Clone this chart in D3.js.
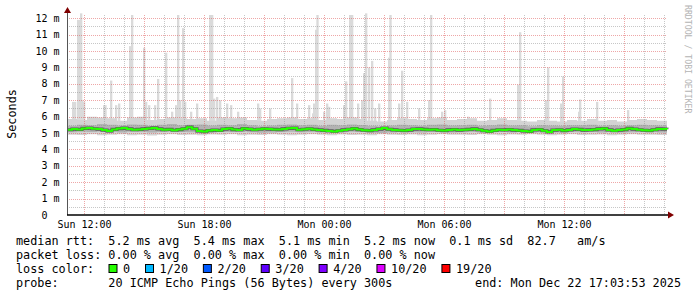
<!DOCTYPE html>
<html>
<head>
<meta charset="utf-8">
<script src="https://cdn.jsdelivr.net/npm/d3@7"></script>
<style>
  html, body { margin: 0; padding: 0; background: #fff; }
  svg text { font-family: "DejaVu Sans Mono", monospace; white-space: pre; }
</style>
</head>
<body>
<div id="chart"></div>
<script>
// ---- data ----
// graph window: Sun 21 Dec 11:09 .. Mon 22 Dec 17:09
const startTime = new Date(2025, 11, 21, 11, 9);
const endTime = new Date(2025, 11, 22, 17, 9);

// median rtt in ms, every 15 minutes from startTime
const medianStepMin = 15;
const medianRtt = [
  5.20, 5.24, 5.22, 5.28, 5.30, 5.26, 5.24, 5.18, 5.12, 5.22,
  5.27, 5.30, 5.25, 5.20, 5.22, 5.25, 5.28, 5.31, 5.25, 5.20,
  5.22, 5.17, 5.21, 5.26, 5.36, 5.26, 5.12, 5.09, 5.15, 5.18,
  5.16, 5.24, 5.27, 5.21, 5.19, 5.27, 5.24, 5.20, 5.23, 5.26,
  5.24, 5.22, 5.21, 5.25, 5.29, 5.30, 5.20, 5.23, 5.26, 5.22,
  5.19, 5.16, 5.13, 5.10, 5.14, 5.19, 5.23, 5.27, 5.21, 5.17,
  5.15, 5.19, 5.24, 5.30, 5.23, 5.19, 5.17, 5.15, 5.18, 5.24,
  5.25, 5.22, 5.20, 5.21, 5.17, 5.15, 5.19, 5.21, 5.18, 5.20,
  5.22, 5.25, 5.20, 5.14, 5.10, 5.16, 5.20, 5.19, 5.21, 5.18,
  5.16, 5.12, 5.10, 5.19, 5.21, 5.14, 5.07, 5.18, 5.20, 5.15,
  5.19, 5.24, 5.22, 5.18, 5.19, 5.21, 5.25, 5.27, 5.19, 5.14,
  5.18, 5.21, 5.28, 5.24, 5.20, 5.17, 5.15, 5.20, 5.25, 5.24,
  5.23
];

// smoke bands in ms, every 30 minutes from startTime
const smokeStepMin = 30;
const smokeLow = [
  4.90, 4.88, 4.92, 4.86, 4.90, 4.93, 4.87, 4.90, 4.85, 4.90,
  4.92, 4.88, 4.90, 4.86, 4.91, 4.89, 4.93, 4.87, 4.90, 4.88,
  4.92, 4.90, 4.86, 4.89, 4.93, 4.90, 4.87, 4.91, 4.88, 4.90,
  4.86, 4.92, 4.90, 4.88, 4.91, 4.87, 4.90, 4.93, 4.89, 4.90,
  4.88, 4.92, 4.90, 4.86, 4.91, 4.89, 4.92, 4.90, 4.87, 4.90,
  4.93, 4.88, 4.90, 4.91, 4.87, 4.90, 4.92, 4.89, 4.90, 4.88,
  4.90
];
const smokeQ1 = [
  5.05, 5.08, 5.06, 5.10, 5.07, 5.04, 5.08, 5.06, 5.03, 5.07,
  5.09, 5.06, 5.05, 5.08, 5.04, 5.07, 5.06, 5.10, 5.05, 5.02,
  5.04, 5.07, 5.08, 5.05, 5.06, 5.03, 5.07, 5.05, 5.08, 5.06,
  5.02, 5.00, 5.04, 5.06, 5.05, 5.03, 5.06, 5.07, 5.04, 5.05,
  5.06, 5.03, 5.05, 5.07, 5.04, 5.06, 5.02, 5.05, 5.04, 5.03,
  5.06, 5.05, 5.07, 5.04, 5.06, 5.03, 5.05, 5.07, 5.06, 5.04,
  5.05
];
const smokeQ3 = [
  5.45, 5.50, 5.48, 5.55, 5.50, 5.46, 5.52, 5.50, 5.44, 5.50,
  5.55, 5.48, 5.50, 5.52, 5.46, 5.50, 5.48, 5.55, 5.47, 5.42,
  5.46, 5.50, 5.52, 5.48, 5.50, 5.45, 5.50, 5.47, 5.52, 5.49,
  5.44, 5.40, 5.46, 5.50, 5.48, 5.44, 5.50, 5.52, 5.46, 5.48,
  5.50, 5.45, 5.48, 5.52, 5.46, 5.48, 5.42, 5.48, 5.46, 5.44,
  5.48, 5.47, 5.50, 5.45, 5.48, 5.44, 5.47, 5.50, 5.48, 5.46,
  5.47
];
const smokeHigh = [
  5.85, 5.80, 6.00, 5.95, 5.90, 5.75, 5.95, 6.00, 5.80, 5.85,
  5.95, 5.90, 5.85, 5.90, 5.75, 5.95, 5.90, 5.95, 5.80, 5.75,
  5.85, 5.90, 5.95, 5.85, 5.90, 5.80, 5.90, 5.85, 5.95, 5.85,
  5.75, 5.70, 5.80, 5.90, 5.85, 5.80, 5.90, 5.95, 5.80, 5.85,
  5.90, 5.75, 5.80, 5.90, 5.80, 5.75, 5.70, 5.80, 5.75, 5.70,
  5.80, 5.75, 5.85, 5.75, 5.80, 5.70, 5.80, 5.85, 5.80, 5.75,
  5.80
];

// single slow pings: "day hh:mm", ms
const peaks = [
  ["21 11:24", 6.9], ["21 11:30", 6.9], ["21 11:39", 11.9], ["21 11:43", 11.9],
  ["21 11:48", 12.3], ["21 11:51", 7.0], ["21 11:57", 6.9], ["21 12:57", 6.7],
  ["21 13:01", 6.7], ["21 13:18", 8.2], ["21 13:33", 6.7], ["21 13:42", 6.8],
  ["21 14:15", 10.3], ["21 14:21", 12.2], ["21 14:57", 10.2], ["21 15:03", 6.9],
  ["21 15:12", 6.7], ["21 15:30", 6.7], ["21 15:39", 8.3], ["21 16:03", 9.9],
  ["21 16:21", 6.3], ["21 16:33", 6.7], ["21 16:39", 12.2], ["21 16:45", 7.0],
  ["21 16:54", 11.4], ["21 17:00", 6.9], ["21 17:18", 6.3], ["21 17:36", 6.8],
  ["21 18:15", 12.2], ["21 18:21", 12.2], ["21 18:27", 7.1], ["21 18:36", 7.2],
  ["21 18:45", 7.0], ["21 19:06", 6.8], ["21 19:18", 6.7], ["21 19:39", 6.3],
  ["21 20:39", 6.8], ["21 20:45", 6.5], ["21 21:15", 6.5], ["21 22:21", 8.35],
  ["21 22:36", 6.8], ["21 23:12", 6.7], ["21 23:24", 6.2], ["21 23:27", 6.8],
  ["21 23:33", 11.3], ["21 23:37", 12.2], ["21 23:57", 6.3], ["22 00:06", 6.8],
  ["22 00:12", 6.6], ["22 00:57", 6.7], ["22 01:03", 8.15], ["22 01:15", 12.2],
  ["22 01:21", 12.2], ["22 01:39", 6.8], ["22 01:51", 7.0], ["22 01:57", 8.65],
  ["22 02:03", 12.3], ["22 02:12", 9.0], ["22 02:21", 9.4], ["22 02:30", 6.5],
  ["22 02:42", 6.8], ["22 03:12", 9.6], ["22 03:16", 12.2], ["22 03:42", 6.8],
  ["22 03:51", 8.8], ["22 04:06", 6.9], ["22 04:42", 6.5], ["22 05:12", 7.0],
  ["22 05:18", 12.2], ["22 05:51", 6.3], ["22 06:00", 6.4], ["22 07:09", 6.0],
  ["22 08:15", 7.1], ["22 09:39", 7.95], ["22 09:45", 11.15], ["22 11:03", 7.0],
  ["22 11:09", 9.0], ["22 11:48", 6.8], ["22 11:54", 8.45], ["22 12:42", 6.3],
  ["22 12:45", 7.05], ["22 13:36", 6.9], ["22 15:09", 6.4]
];

const yTicks = [0, 1, 2, 3, 4, 5, 6, 7, 8, 9, 10, 11, 12];

const lossColors = [
  {label: "0", color: "#26ff00"},
  {label: "1/20", color: "#00b8ff"},
  {label: "2/20", color: "#0059ff"},
  {label: "3/20", color: "#5e00ff"},
  {label: "4/20", color: "#7e00ff"},
  {label: "10/20", color: "#dd00ff"},
  {label: "19/20", color: "#ff0000"}
];

const legendLines = [
  "median rtt:  5.2 ms avg  5.4 ms max  5.1 ms min  5.2 ms now  0.1 ms sd  82.7   am/s",
  "packet loss: 0.00 % avg  0.00 % max  0.00 % min  0.00 % now"
];
const probeText = "probe:       20 ICMP Echo Pings (56 Bytes) every 300s";
const endText = "end: Mon Dec 22 17:03:53 2025";

// ---- layout ----
const W = 697, H = 297;
const plot = {left: 67, right: 667, top: 15, bottom: 215};
const charW = 7.115;

const svg = d3.select("#chart").append("svg")
  .attr("width", W).attr("height", H);

svg.append("rect").attr("width", W).attr("height", H).attr("fill", "#fff");

const x = d3.scaleTime().domain([startTime, endTime]).range([plot.left, plot.right]);
const y = d3.scaleLinear().domain([0, 12.2]).range([plot.bottom, plot.top]);

const addMin = (t, m) => new Date(t.getTime() + m * 60000);
const parsePeak = s => {
  const [d, hm] = s.split(" ");
  const [h, m] = hm.split(":");
  return new Date(2025, 11, +d, +h, +m);
};

const g = svg.append("g");

// spikes
g.append("g").selectAll("rect")
  .data(peaks)
  .join("rect")
  .attr("x", d => x(parsePeak(d[0])))
  .attr("width", d => x(addMin(parsePeak(d[0]), 7)) - x(parsePeak(d[0])))
  .attr("y", d => y(d[1]))
  .attr("height", d => y(5.2) - y(d[1]))
  .attr("fill", "#dadada");

// smoke bands
const smoke = smokeLow.map((v, i) => ({
  t: addMin(startTime, i * smokeStepMin),
  low: v, q1: smokeQ1[i], q3: smokeQ3[i], high: smokeHigh[i]
}));

const band = (lo, hi) => d3.area()
  .curve(d3.curveStepAfter)
  .x(d => x(d.t))
  .y0(d => y(d[lo]))
  .y1(d => y(d[hi]));

g.append("path").datum(smoke).attr("d", band("low", "high")).attr("fill", "#d3d3d3");
g.append("path").datum(smoke).attr("d", band("q1", "q3")).attr("fill", "#b2b2b2");

// grid
const gridG = svg.append("g").attr("shape-rendering", "crispEdges");
const minorY = d3.range(1, 25).map(v => v / 2).filter(v => v % 1 !== 0);
const majorY = yTicks.filter(v => v > 0);

gridG.selectAll(".ymin").data(minorY).join("line")
  .attr("x1", plot.left).attr("x2", plot.right)
  .attr("y1", d => Math.round(y(d)) + 0.5).attr("y2", d => Math.round(y(d)) + 0.5)
  .attr("stroke", "#8f8f8f").attr("stroke-opacity", 0.5).attr("stroke-dasharray", "1,1");

const hours = d3.timeHour.range(startTime, endTime);
gridG.selectAll(".xmin").data(hours.filter(d => d.getHours() % 3 !== 0)).join("line")
  .attr("x1", d => Math.round(x(d)) + 0.5).attr("x2", d => Math.round(x(d)) + 0.5)
  .attr("y1", plot.top).attr("y2", plot.bottom)
  .attr("stroke", "#8f8f8f").attr("stroke-opacity", 0.5).attr("stroke-dasharray", "1,1");

gridG.selectAll(".ymaj").data(majorY).join("line")
  .attr("x1", plot.left).attr("x2", plot.right)
  .attr("y1", d => Math.round(y(d)) + 0.5).attr("y2", d => Math.round(y(d)) + 0.5)
  .attr("stroke", "#de5050").attr("stroke-opacity", 0.5).attr("stroke-dasharray", "1,1");

gridG.selectAll(".xmaj").data(hours.filter(d => d.getHours() % 3 === 0)).join("line")
  .attr("x1", d => Math.round(x(d)) + 0.5).attr("x2", d => Math.round(x(d)) + 0.5)
  .attr("y1", plot.top).attr("y2", plot.bottom)
  .attr("stroke", "#de5050").attr("stroke-opacity", 0.5).attr("stroke-dasharray", "1,1");

// median line
const med = medianRtt.map((v, i) => ({t: addMin(startTime, i * medianStepMin), v}));
const medLine = d3.line().curve(d3.curveStepAfter).x(d => x(d.t)).y(d => y(d.v));
svg.append("path").datum(med).attr("d", medLine)
  .attr("fill", "none").attr("stroke", "#000").attr("stroke-opacity", 0.5).attr("stroke-width", 3.2);
svg.append("path").datum(med).attr("d", medLine)
  .attr("fill", "none").attr("stroke", "#26ff00").attr("stroke-width", 2);

// axes
svg.append("line")
  .attr("x1", plot.left + 0.5).attr("x2", plot.left + 0.5)
  .attr("y1", plot.top - 3).attr("y2", plot.bottom)
  .attr("stroke", "#555");
svg.append("line")
  .attr("x1", plot.left).attr("x2", plot.right + 2)
  .attr("y1", plot.bottom).attr("y2", plot.bottom)
  .attr("stroke", "#000").attr("stroke-width", 1.6);
svg.append("path")
  .attr("d", `M${plot.left - 3},${plot.top - 2} L${plot.left + 4},${plot.top - 2} L${plot.left + 0.5},${plot.top - 8} Z`)
  .attr("fill", "#800000");
svg.append("path")
  .attr("d", `M${plot.right + 1},${plot.bottom - 3.5} L${plot.right + 1},${plot.bottom + 3.5} L${plot.right + 7},${plot.bottom} Z`)
  .attr("fill", "#800000");

// y tick labels
svg.append("g").selectAll("text").data(yTicks).join("text")
  .attr("x", 59.5)
  .attr("y", d => y(d) + 3.6)
  .attr("text-anchor", "end")
  .attr("font-size", "10px")
  .attr("fill", "#000")
  .text(d => d === 0 ? "0  " : d + " m");

// x tick labels
const fmt = d3.timeFormat("%a %H:%M");
svg.append("g").selectAll("text").data(d3.timeHour.every(6).range(startTime, endTime)).join("text")
  .attr("x", d => x(d) + 0.5)
  .attr("y", 227.5)
  .attr("text-anchor", "middle")
  .attr("font-size", "10px")
  .attr("fill", "#000")
  .text(d => fmt(d));

// y title
svg.append("text")
  .attr("transform", "translate(15.5,114) rotate(-90)")
  .attr("text-anchor", "middle")
  .attr("font-size", "11.8px")
  .attr("fill", "#000")
  .text("Seconds");

// watermark
svg.append("text")
  .attr("transform", "translate(685,5) rotate(90)")
  .attr("font-size", "8.2px")
  .attr("fill", "#b4b4b4")
  .text("RRDTOOL / TOBI OETIKER");

// legend
const legend = svg.append("g").attr("font-size", "11.8px").attr("fill", "#000");
legend.selectAll(".row").data(legendLines).join("text")
  .attr("x", 16).attr("y", (d, i) => 245 + i * 14)
  .text(d => d);

legend.append("text").attr("x", 16).attr("y", 273).text("loss color:");
let bx = 16 + 13 * charW;
lossColors.forEach(c => {
  legend.append("rect")
    .attr("x", bx + 0.5).attr("y", 264.5).attr("width", 8).attr("height", 8)
    .attr("fill", c.color).attr("stroke", "#000").attr("stroke-width", 1);
  legend.append("text").attr("x", bx + 14.6).attr("y", 273).text(c.label);
  bx = bx + 14.6 + c.label.length * charW + 14.8;
});

legend.append("text").attr("x", 16).attr("y", 286.5).text(probeText);
legend.append("text").attr("x", 681).attr("y", 286.5).attr("text-anchor", "end").text(endText);
</script>
</body>
</html>
